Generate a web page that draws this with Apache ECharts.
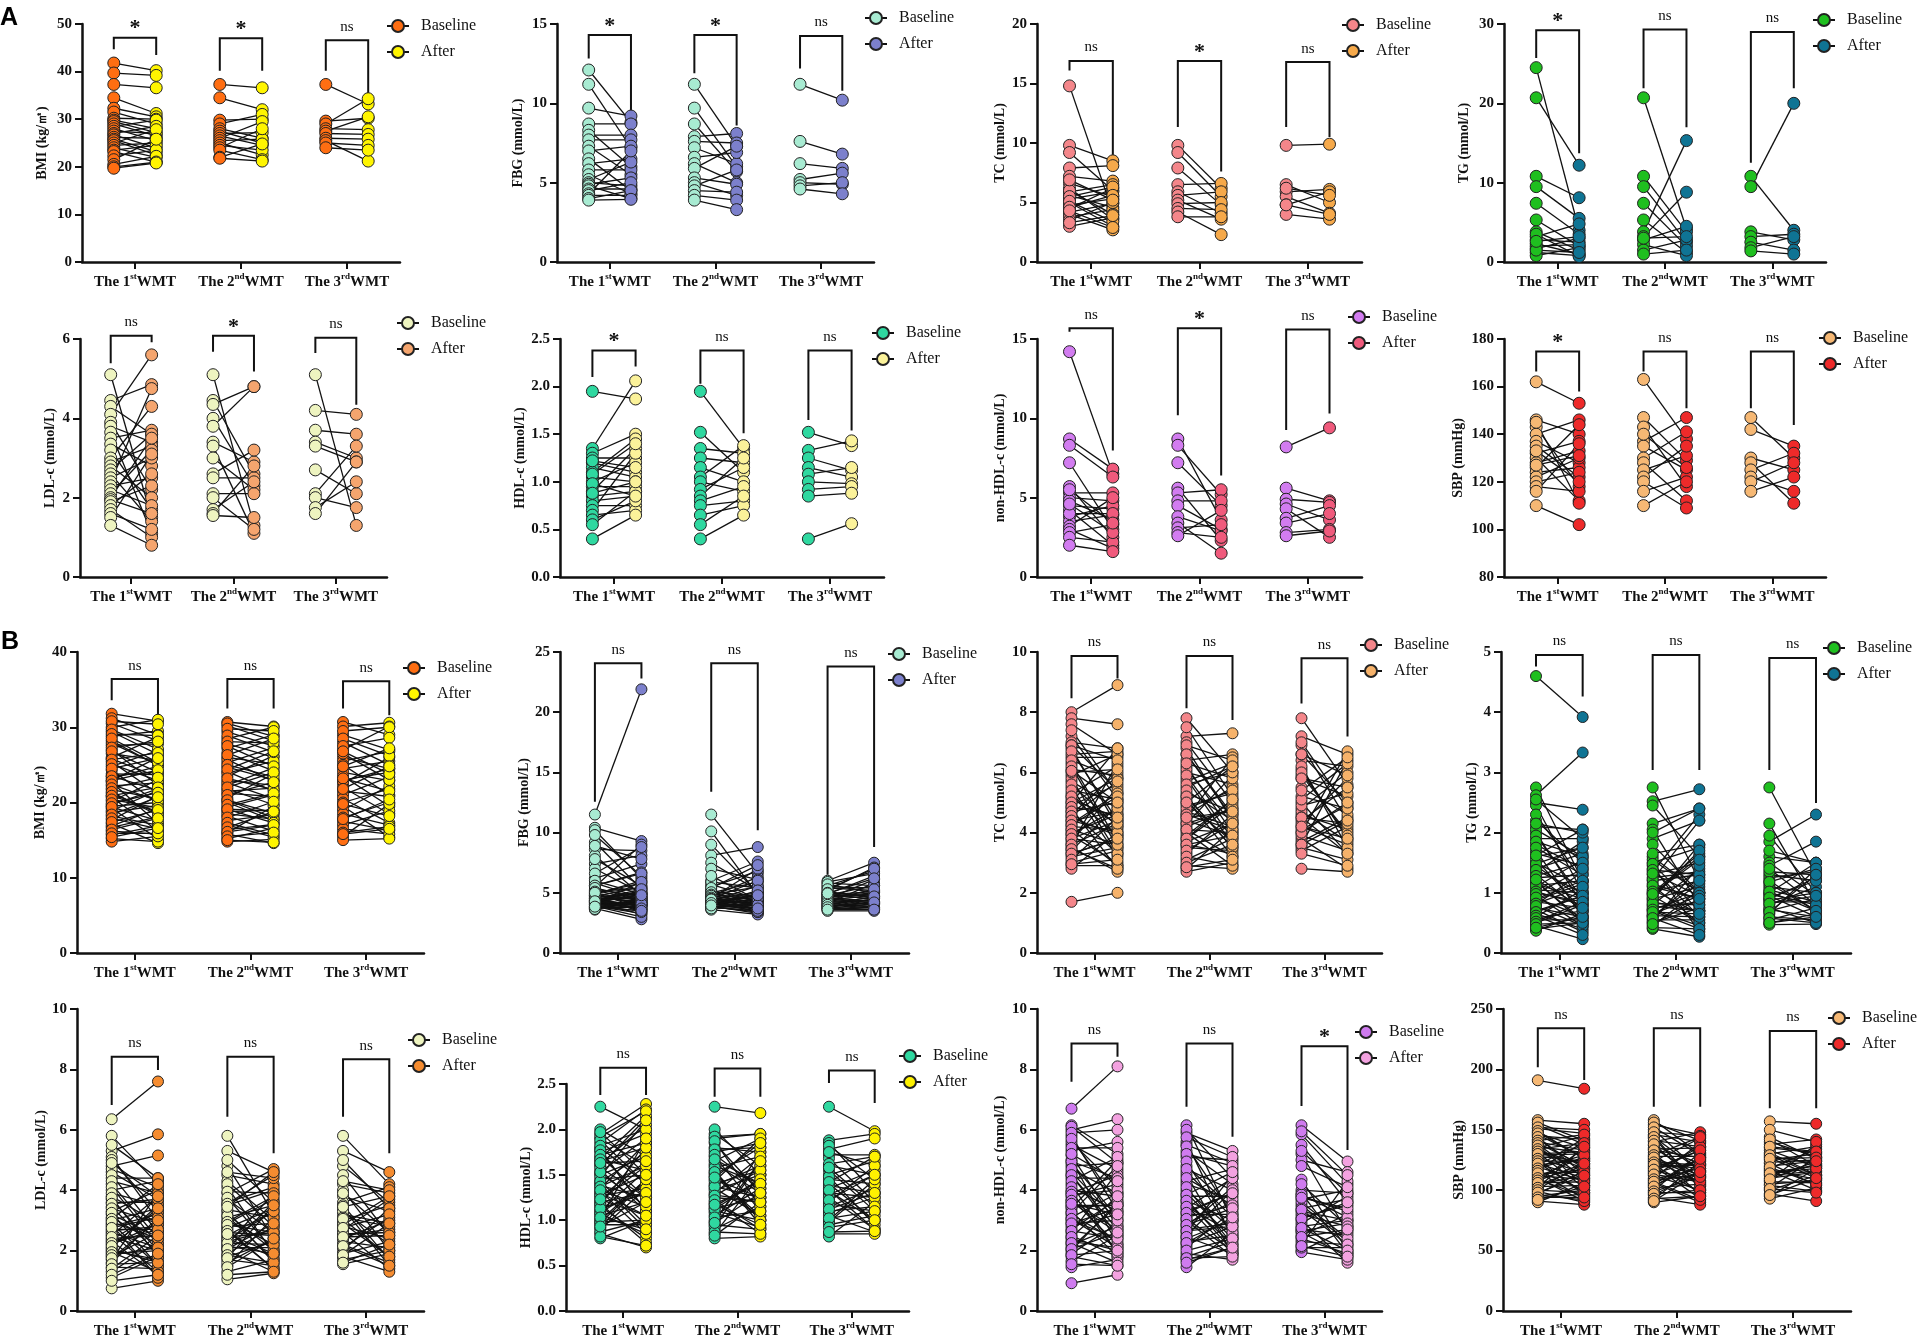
<!DOCTYPE html>
<html><head><meta charset="utf-8">
<script src="https://cdn.jsdelivr.net/npm/echarts/dist/echarts.min.js"></script>
<style>html,body{margin:0;padding:0;background:#fff}#c{width:1919px;height:1340px}</style>
</head><body><div id="c"></div>
<script>
// ---------- categories ----------
const catMain = ['The 1', 'The 2', 'The 3'];
const catSup = ['st', 'nd', 'rd'];
const catTail = 'WMT';

// ---------- Panel A ----------
const A_BMI_base = [
 [41.8,39.7,37.3,34.5,32.3,31.5,30.2,29.8,29.5,29.0,28.5,28.0,27.5,27.0,26.7,26.2,25.8,25.5,25.0,24.5,24.0,23.5,23.2,22.3,21.5,20.5,20.0,19.7],
 [37.3,34.5,29.8,29.0,28.0,27.5,27.0,26.5,26.0,25.5,25.0,24.5,24.0,23.5,22.0,21.8],
 [37.3,29.6,29.0,28.0,27.5,27.0,26.0,25.5,25.0,24.0]];
const A_BMI_after = [
 [40.2,39.2,36.6,31.2,30.5,29.0,30.0,28.0,27.2,26.5,29.8,25.5,27.0,28.5,24.0,26.0,23.2,22.5,27.8,25.0,22.0,24.5,21.0,23.5,25.8,22.2,21.0,20.8],
 [36.6,32.0,30.0,31.0,26.0,25.0,27.2,24.5,29.5,25.8,22.5,23.5,28.0,21.5,24.8,21.2],
 [33.2,30.2,34.3,27.8,30.5,26.8,25.8,21.2,24.5,23.5]];
const A_BMI_br = [[47.1,44.7,43.5],[47.0,40.2,40.2],[46.6,40.2,35.1]];
const A_BMI_sig = ['*','*','ns'];

const A_FBG_base = [
 [12.1,11.2,9.7,8.7,8.3,8.0,7.7,7.3,7.0,6.5,6.2,5.8,5.5,5.2,5.0,4.9,4.8,4.6,4.5,4.3,4.2,4.0,3.9],
 [11.2,9.7,8.7,7.9,7.6,7.2,6.6,6.2,5.9,5.3,5.0,4.8,4.5,4.2,3.9],
 [11.2,7.6,6.2,5.2,5.0,4.8,4.6]];
const A_FBG_after = [
 [8.8,7.2,9.2,8.7,6.0,8.0,7.7,5.5,7.3,4.5,6.5,5.8,4.3,6.3,4.8,5.3,4.0,4.6,5.0,7.0,4.2,4.5,3.95],
 [7.3,6.0,5.7,8.1,7.5,6.2,6.9,5.0,7.3,4.9,4.2,5.8,4.4,3.9,3.3],
 [10.2,6.8,5.9,5.6,4.9,5.0,4.3]];
const A_FBG_br = [[14.3,12.83,9.4],[14.3,11.9,8.6],[14.24,12.2,10.8]];
const A_FBG_sig = ['*','*','ns'];

const A_TC_base = [
 [14.8,9.8,9.2,7.9,7.2,6.6,6.2,5.9,5.6,5.3,5.0,4.8,4.5,4.2,4.0,3.8,3.5,3.0,6.0,5.5,5.1,4.6,4.3,3.3,6.9],
 [9.8,9.2,7.9,6.5,5.9,5.6,5.2,4.9,4.5,4.2,3.8],
 [9.8,6.5,5.9,5.5,4.8,4.0,6.2,4.8]];
const A_TC_after = [
 [4.2,8.5,6.0,8.1,6.8,5.5,3.6,6.5,4.6,5.9,3.0,5.3,6.2,4.9,2.7,4.4,5.0,3.7,4.0,6.3,3.4,5.6,2.9,3.9,5.2],
 [6.2,5.5,4.8,6.6,4.1,5.9,3.6,5.0,4.4,2.3,3.8],
 [9.9,5.0,6.1,4.1,5.9,3.6,5.6,4.0]];
const A_TC_br = [[16.9,16.1,9.0],[16.9,11.35,7.6],[16.8,11.35,10.5]];
const A_TC_sig = ['ns','*','ns'];

const A_TG_base = [
 [24.5,20.7,10.8,9.5,7.4,5.3,3.8,3.2,2.8,2.3,1.7,1.2,0.8,3.5,2.0,1.5,2.6],
 [20.7,10.8,9.5,7.4,5.3,3.8,3.2,2.8,2.2,1.5,1.0,3.0],
 [10.8,9.5,3.8,3.2,2.5,1.8,1.4]];
const A_TG_after = [
 [4.0,12.2,8.1,5.5,3.5,2.0,1.5,4.8,2.5,1.0,3.0,0.8,1.8,0.7,2.2,1.2,3.2],
 [4.2,3.8,2.5,2.0,1.2,15.3,8.8,4.5,0.8,2.8,1.5,3.2],
 [4.0,20.0,2.8,3.5,1.5,3.2,1.0]];
const A_TG_br = [[29.2,25.7,13.7],[29.3,21.9,17.0],[29.0,12.5,21.9]];
const A_TG_sig = ['*','ns','ns'];

const A_LDL_base = [
 [5.1,4.45,4.3,4.1,3.9,3.8,3.65,3.5,3.35,3.2,3.0,2.9,2.8,2.7,2.6,2.5,2.4,2.3,2.2,2.1,2.0,1.95,1.9,1.8,1.7,1.6,1.5,1.3],
 [5.1,4.45,4.35,4.0,3.8,3.4,3.3,3.0,2.6,2.5,2.1,2.0,1.7,1.6,1.55],
 [5.1,4.2,3.7,3.4,3.3,2.7,2.1,2.0,1.75,1.6]];
const A_LDL_after = [
 [1.5,4.85,3.6,5.6,2.2,3.4,1.1,3.7,2.8,1.7,4.3,3.3,2.0,3.6,1.4,3.0,4.75,2.5,1.8,3.2,3.5,1.6,2.3,2.6,1.0,1.2,3.1,0.8],
 [1.3,2.6,4.8,2.3,4.8,2.9,1.1,2.2,3.2,2.5,2.1,1.2,2.4,2.8,1.5],
 [1.3,4.1,3.6,3.0,2.9,2.1,3.3,1.75,2.4,2.9]];
const A_LDL_br = [[6.08,5.39,5.92],[6.08,5.68,5.18],[6.03,5.65,4.34]];
const A_LDL_sig = ['ns','*','ns'];

const A_HDL_base = [
 [1.95,1.35,1.3,1.25,1.2,1.15,1.1,1.05,1.0,0.95,0.9,0.85,0.8,0.75,0.7,0.65,0.6,0.55,0.4,1.22,1.08,0.98,0.88],
 [1.95,1.52,1.35,1.25,1.15,1.05,1.0,0.92,0.85,0.8,0.75,0.65,0.55,0.4],
 [1.52,1.33,1.25,1.15,1.08,1.0,0.92,0.85,0.4]];
const A_HDL_after = [
 [1.87,2.06,1.5,1.25,1.1,1.05,1.45,1.0,1.2,0.95,1.35,0.9,0.85,0.75,1.3,0.7,0.8,0.9,0.65,1.15,1.4,0.85,1.0],
 [1.35,1.1,1.3,1.2,1.0,1.38,0.9,1.15,1.25,0.95,0.8,0.75,0.85,0.65],
 [1.38,1.43,1.12,1.05,1.15,0.98,0.95,0.88,0.56]];
const A_HDL_br = [[2.38,2.10,2.21],[2.38,2.03,1.51],[2.38,1.65,1.54]];
const A_HDL_sig = ['*','ns','ns'];

const A_NHDL_base = [
 [14.2,8.7,8.3,7.2,5.7,5.3,5.0,4.8,4.5,4.2,3.8,3.5,3.2,3.0,2.8,2.5,2.0,4.0,4.6,5.5],
 [8.7,8.3,7.2,5.6,5.3,4.8,4.5,3.8,3.4,3.1,2.8,2.6],
 [8.2,5.6,4.9,4.6,4.3,3.7,3.4,2.8,2.6]];
const A_NHDL_after = [
 [6.5,6.8,6.3,3.0,2.5,5.3,4.8,3.6,4.3,2.0,4.5,3.9,5.0,1.8,3.3,2.2,1.6,4.0,2.8,3.4],
 [3.6,5.2,4.5,2.3,5.5,4.8,3.0,2.9,1.5,3.3,2.5,4.2],
 [9.4,4.8,4.7,3.6,2.5,4.5,4.0,3.0,2.9]];
const A_NHDL_br = [[15.67,15.46,7.97],[15.67,10.2,6.4],[15.6,9.27,10.3]];
const A_NHDL_sig = ['ns','*','ns'];

const A_SBP_base = [
 [162,146,143,140,137,135,132,130,128,126,124,122,120,118,116,110,145,133,127],
 [163,147,143,137,135,130,128,125,122,120,116,110,140],
 [147,142,130,128,125,122,120,116]];
const A_SBP_after = [
 [153,140,118,146,128,122,137,112,133,144,126,130,124,116,136,102,111,120,131],
 [138,129,118,147,125,141,112,131,135,109,122,120,126],
 [130,135,125,111,132,116,128,122]];
const A_SBP_br = [[174.7,166.3,157.9],[174.7,166.3,150.9],[174.7,150.9,143.9]];
const A_SBP_sig = ['*','ns','ns'];

// ---------- Panel B ----------
const B_BMI_base = [
 [31.8,30.5,30.0,29.4,28.8,28.2,27.6,27.0,26.5,26.0,25.4,24.8,24.3,23.8,23.2,22.7,22.2,21.7,21.2,20.7,20.2,19.7,19.2,18.7,18.2,17.7,17.2,16.7,16.2,15.7,15.2,14.8,25.8,22.9,20.9,18.9,16.9,27.9,23.5,19.5,
  31.2,30.8,29.7,29.1,28.5,27.3,26.8,25.7,25.1,24.5,23.5,22.9,22.4,21.9,21.4,20.9,20.4,19.9,19.4,18.4,17.9,17.4,16.4,15.9,15.4],
 [30.7,30.2,29.4,28.5,27.8,27.2,26.6,26.0,25.3,24.7,24.1,23.5,22.9,22.3,21.8,21.2,20.6,20.0,19.4,18.8,18.2,17.6,17.0,16.4,15.8,15.2,14.8,25.7,22.6,20.3,18.5,16.0,23.9,21.5,19.1,
  30.5,29.8,28.9,28.1,27.5,26.3,25.0,24.4,23.2,22.0,21.0,20.3,19.7,19.1,18.0,17.3,16.7,16.1,15.5,15.0],
 [30.7,30.1,29.0,27.0,26.0,25.5,25.0,24.5,24.0,23.5,23.0,22.5,22.0,21.5,21.0,20.5,20.0,19.5,19.0,18.5,18.0,17.5,17.0,16.5,16.0,15.5,15.0,28.0,26.5,22.8,
  29.5,28.5,27.5,26.8,24.8,23.2,21.8,19.8,17.8,15.8]];
const B_BMI_after = [
 [30.8,28.2,31.0,26.4,29.5,24.9,27.8,22.3,25.6,28.7,21.2,26.9,19.9,23.7,24.8,17.2,22.6,20.5,18.6,16.2,23.0,21.8,15.2,19.6,17.0,20.9,14.6,18.1,15.8,16.9,14.8,15.5,23.4,26.0,18.8,21.6,19.2,25.0,24.1,20.0,
  29.0,30.4,27.1,28.9,25.3,28.1,24.0,26.6,22.9,25.9,21.6,24.3,20.2,23.3,18.3,22.0,19.3,21.3,17.6,20.7,16.5,19.0,17.9,15.9,16.6],
 [30.1,28.2,27.5,30.0,26.0,29.0,24.2,25.1,27.3,23.0,21.5,26.2,22.3,24.6,19.7,20.8,23.8,17.6,21.0,19.0,16.2,18.4,15.4,17.1,14.6,16.6,15.1,22.8,20.5,18.0,17.8,19.5,25.5,21.9,18.9,
  28.8,29.5,26.7,27.9,24.8,28.5,23.4,26.8,21.7,24.0,22.7,18.6,21.2,17.3,20.1,15.7,18.8,17.0,16.0,14.7],
 [29.0,30.6,27.0,30.1,24.5,26.8,21.0,25.5,22.9,19.5,24.0,26.0,18.5,20.8,23.4,17.3,21.8,15.4,22.2,17.0,20.0,16.3,18.9,15.8,16.8,19.8,15.2,25.0,23.0,24.5,
  30.0,26.2,28.6,23.8,27.2,21.5,24.8,18.2,20.4,16.5]];
const B_BMI_br = [[36.4,33.6,31.4],[36.4,32.5,32.5],[36.1,32.5,31.6]];
const B_BMI_sig = ['ns','ns','ns'];

const B_FBG_base = [
 [11.5,10.4,10.2,9.2,8.6,8.1,7.4,7.0,6.2,5.8,5.5,5.2,5.0,4.9,4.8,4.7,4.6,4.5,4.4,4.3,4.2,4.1,4.0,3.9,3.8,3.7,3.6,5.3,4.95,4.55,4.35,4.15,3.95,5.6,4.75,4.45,4.25,4.05,3.85,3.75,
  9.8,8.9,7.8,6.6,6.0,5.6,5.4,5.1,4.85,4.65,4.5,4.35,4.25,4.15,4.0,3.9,3.8,3.7,3.65,4.75,4.4,4.2,5.0,4.3,3.85],
 [11.5,10.1,8.1,7.5,6.0,5.7,5.5,5.2,5.0,4.9,4.8,4.7,4.6,4.5,4.4,4.3,4.2,4.1,4.0,3.9,3.8,3.7,3.6,5.9,4.95,4.55,4.35,4.15,3.95,5.1,4.65,4.25,4.05,3.85,3.75,
  9.0,7.0,6.4,5.4,5.05,4.85,4.75,4.6,4.5,4.4,4.3,4.2,4.1,4.0,3.9,3.8,3.7,4.45,4.15,3.95],
 [6.0,5.8,5.6,5.4,5.2,5.0,4.9,4.8,4.7,4.6,4.5,4.4,4.3,4.2,4.1,4.0,3.9,3.8,3.7,3.6,3.5,5.5,5.1,4.85,4.55,4.35,4.05,3.85,3.65,4.65,
  5.9,5.7,5.3,5.0,4.8,4.6,4.4,4.2,4.0,3.8,3.6,4.95]];
const B_FBG_after = [
 [21.9,9.3,6.2,5.3,8.5,4.8,8.1,5.0,7.4,4.6,9.0,4.4,4.3,6.0,4.1,5.5,4.9,3.9,4.6,5.1,3.6,4.0,4.2,3.3,3.8,2.8,4.4,4.7,5.8,4.3,3.7,4.9,4.0,6.7,4.5,3.9,5.2,4.2,3.5,4.1,
  6.4,7.8,5.6,8.8,4.9,6.6,4.5,5.4,4.0,5.0,3.6,4.7,3.2,5.9,4.2,3.0,4.4,3.9,4.6,3.4,5.3,4.1,3.7,4.8,3.5],
 [6.6,4.8,8.8,5.2,7.6,4.5,6.8,4.3,5.9,4.4,4.1,6.3,3.9,5.0,4.6,3.7,4.2,3.5,4.9,3.3,4.0,3.8,3.2,5.4,4.3,7.0,4.1,3.6,4.5,4.7,3.9,5.6,4.0,3.4,4.2,
  5.0,6.1,4.4,7.3,3.8,5.5,4.2,3.6,6.0,4.6,3.4,4.9,3.9,5.2,4.1,3.5,4.5,4.0,3.7,4.8],
 [7.5,5.6,6.8,5.2,7.1,4.7,6.4,4.5,5.0,4.3,6.1,4.8,4.0,4.4,5.8,3.9,4.2,3.6,4.1,3.8,3.5,5.4,4.6,5.1,4.0,4.3,3.7,4.5,3.9,4.9,
  6.6,5.0,7.0,4.4,5.6,4.1,5.3,3.8,4.7,4.2,3.6,6.2]];
const B_FBG_br = [[24.06,12.57,22.8],[24.06,13.4,10.2],[23.8,6.5,8.8]];
const B_FBG_sig = ['ns','ns','ns'];

const B_TC_base = [
 [8.0,7.8,7.2,7.0,6.8,6.5,6.3,6.1,5.9,5.7,5.5,5.3,5.1,4.9,4.8,4.6,4.5,4.3,4.2,4.0,3.9,3.7,3.5,3.4,3.2,3.0,2.9,2.8,1.7,6.6,5.2,4.7,4.1,3.8,3.6,5.8,5.0,4.4,3.3,6.9,
  7.6,7.4,6.9,6.7,6.4,6.2,6.0,5.6,5.4,5.2,5.0,4.85,4.7,4.55,4.4,4.25,4.1,3.95,3.8,3.6,3.45,3.3,3.1,2.95,6.05],
 [7.8,7.2,7.0,6.8,6.4,6.2,6.0,5.8,5.5,5.3,5.1,4.9,4.7,4.5,4.4,4.2,4.0,3.9,3.7,3.5,3.3,3.1,2.9,2.8,2.7,6.6,5.7,5.0,4.3,3.8,6.1,5.2,4.6,4.1,3.6,
  7.5,6.9,6.6,6.3,5.9,5.6,5.4,5.2,4.8,4.6,4.3,4.1,3.8,3.6,3.4,3.2,3.0,2.85,5.0,4.5],
 [7.8,7.2,6.9,6.4,6.1,5.8,5.2,5.0,4.8,4.6,4.4,4.2,4.0,3.8,3.7,3.5,3.4,2.8,6.6,5.5,4.7,4.3,3.9,3.6,5.9,4.9,4.1,6.2,5.1,4.5,
  7.0,6.6,6.0,5.4,4.5,4.0,3.6,3.3,5.8,4.2]];
const B_TC_after = [
 [8.9,7.6,5.1,6.8,4.2,6.5,3.7,5.9,6.6,4.8,3.2,6.2,4.5,5.6,2.8,6.0,3.9,5.3,4.1,4.6,3.0,5.5,2.7,4.9,3.5,3.4,2.9,4.0,2.0,6.7,4.3,5.0,3.6,4.4,6.3,3.3,5.8,4.7,3.8,5.4,
  6.6,5.3,6.4,4.4,5.8,3.5,6.1,4.2,5.1,3.9,6.8,4.6,3.3,5.7,4.0,5.2,2.9,4.8,3.6,4.3,2.8,3.8,4.5,3.1,5.0],
 [6.0,7.3,5.0,4.4,6.6,4.0,5.6,3.6,6.2,4.7,3.2,5.3,4.2,6.5,3.9,4.8,2.9,5.1,4.3,3.4,4.6,3.8,2.8,4.1,3.0,4.5,6.3,3.7,5.9,4.9,4.3,3.5,5.5,4.0,3.3,
  5.2,6.4,4.6,5.8,3.8,6.0,4.4,3.5,5.4,4.1,4.8,3.2,5.1,3.9,4.3,2.9,3.6,3.1,6.2,4.7],
 [5.6,6.6,4.4,6.2,3.8,5.2,4.8,3.3,6.0,4.1,5.5,3.6,6.7,2.8,4.5,3.1,4.2,2.7,5.0,4.6,3.7,5.8,3.4,6.4,4.0,5.3,4.9,3.5,6.3,4.3,
  4.8,5.9,3.9,6.5,3.3,5.0,4.4,2.9,5.5,3.8]];
const B_TC_br = [[9.87,8.46,9.12],[9.87,8.13,7.74],[9.79,8.29,7.19]];
const B_TC_sig = ['ns','ns','ns'];

const B_TG_base = [
 [4.6,2.75,2.62,2.5,2.45,2.2,2.1,2.0,1.9,1.8,1.7,1.6,1.5,1.45,1.4,1.3,1.25,1.2,1.1,1.05,1.0,0.95,0.9,0.85,0.8,0.75,0.7,0.65,0.6,0.55,0.5,0.45,0.4,0.37,1.35,1.15,0.88,0.72,1.65,2.05,
  2.55,2.3,2.15,1.95,1.85,1.75,1.55,1.48,1.38,1.28,1.18,1.12,1.02,0.98,0.92,0.82,0.78,0.68,0.62,0.58,0.52,0.48,0.42,1.62,1.22],
 [2.75,2.52,2.15,2.05,1.9,1.6,1.5,1.4,1.3,1.2,1.1,1.0,0.95,0.9,0.85,0.8,0.75,0.7,0.65,0.6,0.55,0.5,0.45,0.4,1.35,1.05,0.88,0.72,1.25,1.15,0.98,0.78,0.62,1.45,1.55,
  2.45,2.0,1.8,1.65,1.48,1.38,1.22,1.12,1.02,0.92,0.82,0.72,0.62,0.52,0.42,1.32,0.98,0.68,0.58,0.48],
 [2.75,2.15,1.85,1.6,1.5,1.45,1.3,1.25,1.2,1.1,1.0,0.95,0.9,0.85,0.8,0.75,0.7,0.65,0.6,0.55,0.5,0.47,1.35,1.05,0.88,0.72,1.15,0.98,
  1.95,1.7,1.4,1.18,1.02,0.92,0.82,0.68,0.58,0.5]];
const B_TG_after = [
 [3.92,1.2,3.33,2.38,1.0,1.5,2.05,0.8,1.9,1.4,0.6,1.75,1.1,0.9,1.65,0.7,1.3,0.5,1.55,1.0,0.85,0.45,1.2,0.75,1.35,0.6,0.95,0.4,1.05,0.55,0.8,0.23,0.5,0.65,1.85,0.9,1.15,0.35,1.45,1.6,
  1.9,1.2,2.0,0.9,1.6,1.3,0.7,1.75,1.0,1.5,0.55,1.2,0.8,1.4,0.6,1.1,0.45,0.95,0.3,0.7,0.85,0.5,0.6,2.05,0.75],
 [1.2,2.72,2.4,0.8,2.2,1.0,1.75,0.6,1.5,1.3,0.9,1.65,0.5,1.1,0.7,1.4,0.85,0.4,0.95,1.25,0.55,0.75,1.05,0.27,2.3,0.65,1.8,0.45,1.35,0.9,1.6,0.7,1.15,0.35,1.0,
  1.6,2.4,1.0,1.8,0.7,1.3,2.2,0.5,1.2,1.7,0.8,1.0,0.6,1.45,0.4,0.95,1.55,0.65,0.3,0.9],
 [1.3,0.8,2.3,1.5,0.95,1.85,1.2,1.35,0.7,1.0,1.5,0.6,1.25,0.85,1.1,0.5,0.9,1.4,0.55,0.75,0.65,0.48,1.3,0.85,1.0,0.6,0.7,0.8,
  1.0,1.5,0.8,1.4,0.7,1.2,0.95,1.3,0.5,0.6]];
const B_TG_br = [[4.95,4.76,4.26],[4.95,3.04,3.04],[4.9,3.04,2.49]];
const B_TG_sig = ['ns','ns','ns'];

const B_LDL_base = [
 [6.35,5.8,5.3,5.1,4.8,4.6,4.4,4.2,4.0,3.8,3.6,3.45,3.3,3.1,3.0,2.9,2.8,2.7,2.6,2.5,2.4,2.3,2.2,2.1,2.0,1.9,1.8,1.6,1.45,1.3,1.1,0.75,2.65,2.35,2.05,3.2,2.85,3.7,1.7,2.55,
  5.5,5.0,4.7,4.5,4.3,4.1,3.9,3.75,3.55,3.4,3.25,3.05,2.95,2.75,2.45,2.25,2.15,1.95,1.85,1.75,1.55,1.4,1.2,1.0,4.9],
 [5.8,5.3,4.8,4.5,4.3,4.1,3.9,3.7,3.5,3.3,3.1,3.0,2.9,2.8,2.7,2.6,2.5,2.4,2.3,2.2,2.1,2.0,1.9,1.8,1.7,1.5,1.3,1.05,3.2,2.75,2.45,2.15,3.6,1.6,2.05,
  5.0,4.6,4.2,3.95,3.75,3.55,3.35,3.15,2.95,2.85,2.65,2.35,2.25,2.05,1.85,1.75,1.45,1.2,3.45,2.55],
 [5.8,5.3,4.8,4.5,4.2,4.0,3.8,3.6,3.4,3.2,3.0,2.9,2.8,2.7,2.6,2.5,2.4,2.3,2.2,2.0,1.9,1.8,1.55,3.3,2.85,2.55,2.1,3.5,3.1,1.7,
  5.0,4.3,3.9,3.45,3.05,2.75,2.45,2.15,1.85,1.6]];
const B_LDL_after = [
 [7.6,4.2,5.85,3.0,5.15,3.7,4.4,2.4,4.3,2.9,3.6,1.9,4.0,2.2,3.4,1.5,3.2,2.7,2.1,3.8,2.5,1.2,2.9,3.5,1.7,2.0,2.6,3.1,1.4,2.3,1.8,1.0,2.8,3.3,1.6,2.45,1.1,2.0,3.9,1.3,
  4.4,3.3,4.1,2.6,3.9,2.2,3.5,1.8,3.7,2.9,1.5,4.2,2.4,3.1,2.0,2.7,3.4,1.3,2.1,3.0,1.6,2.5,1.9,1.2,3.8],
 [3.2,4.6,2.4,4.2,3.0,1.9,4.7,2.6,4.0,1.6,3.5,2.2,3.7,2.9,1.4,2.5,3.3,1.8,2.7,3.9,2.1,1.3,2.8,2.3,1.5,3.1,1.7,1.25,2.0,3.4,2.6,1.9,4.1,2.4,3.6,
  3.6,4.4,2.8,3.9,2.0,4.5,3.1,1.7,3.8,2.6,1.4,3.3,2.2,2.9,1.6,3.5,2.4,1.3,4.6,1.9],
 [4.2,4.6,3.6,2.5,3.9,2.0,3.3,4.1,1.5,2.9,3.5,1.8,2.4,3.7,1.4,2.7,3.0,2.1,1.6,3.4,2.3,1.3,1.9,2.2,3.8,2.6,3.1,1.7,2.8,2.0,
  3.4,4.0,2.6,3.8,1.8,3.2,2.5,1.5,2.9,2.2]];
const B_LDL_br = [[8.42,6.82,7.98],[8.42,6.43,5.22],[8.34,6.43,5.22]];
const B_LDL_sig = ['ns','ns','ns'];

const B_HDL_base = [
 [2.25,1.95,1.9,1.85,1.8,1.75,1.7,1.65,1.6,1.55,1.5,1.45,1.4,1.35,1.3,1.25,1.2,1.15,1.1,1.05,1.0,0.95,0.9,0.85,0.8,1.62,1.52,1.42,1.32,1.22,1.12,1.02,0.92,1.78,1.68,1.38,1.28,1.18,1.08,0.98,
  2.0,1.92,1.88,1.82,1.77,1.72,1.67,1.58,1.48,1.43,1.37,1.27,1.17,1.07,0.97,0.87,0.82,1.97,1.53,1.33,1.13,1.03,0.93,1.63,1.23],
 [2.25,1.95,1.9,1.85,1.8,1.7,1.65,1.6,1.55,1.5,1.45,1.4,1.35,1.3,1.25,1.2,1.15,1.1,1.05,1.0,0.95,0.9,0.85,0.8,1.75,1.62,1.48,1.38,1.28,1.18,1.08,0.98,1.52,1.33,1.13,
  2.0,1.92,1.87,1.78,1.72,1.58,1.53,1.43,1.37,1.27,1.22,1.12,1.03,0.93,0.87,0.83,1.67,1.47,1.17,0.97],
 [2.25,1.88,1.85,1.72,1.68,1.6,1.55,1.5,1.45,1.4,1.35,1.3,1.25,1.2,1.15,1.1,1.05,1.0,0.95,0.85,0.82,1.62,1.48,1.38,1.28,1.18,1.08,0.98,1.78,1.32,
  1.82,1.75,1.58,1.42,1.33,1.22,1.12,1.02,0.92,0.87]];
const B_HDL_after = [
 [2.0,2.28,1.6,2.22,1.4,1.95,1.25,1.8,2.12,1.1,1.7,1.5,0.9,1.85,1.05,1.65,1.3,0.8,1.55,1.2,1.45,0.95,1.35,0.7,1.0,2.05,1.15,1.75,0.85,1.6,1.3,1.9,1.45,1.1,2.15,1.25,1.5,0.75,1.4,1.0,
  1.7,2.2,1.4,2.0,1.1,1.85,1.55,1.25,2.1,0.95,1.6,1.35,1.8,0.85,1.45,1.0,0.72,1.5,1.9,1.15,1.3,0.9,1.2,1.65,1.05],
 [2.18,1.6,1.95,1.3,1.75,1.1,1.9,1.4,0.95,1.8,1.25,1.55,1.05,1.7,1.2,0.85,1.45,1.0,1.35,1.65,0.9,1.15,1.5,0.82,1.85,1.3,1.05,1.6,1.2,1.4,0.92,1.75,1.0,1.5,1.25,
  1.5,1.95,1.15,1.8,1.35,1.7,1.0,1.9,1.25,1.55,0.9,1.45,1.1,1.65,0.85,1.2,1.4,1.85,0.95,1.3],
 [1.98,1.95,1.3,1.72,1.2,1.5,1.1,1.65,1.4,1.0,1.55,1.25,0.9,1.6,1.35,1.15,0.87,1.45,1.05,0.85,1.2,1.7,0.95,1.3,1.5,1.1,1.25,1.4,1.9,1.0,
  1.45,1.6,1.15,1.7,0.9,1.5,1.3,1.1,1.0,0.88]];
const B_HDL_br = [[2.68,2.38,2.38],[2.67,2.36,2.36],[2.65,2.51,2.29]];
const B_HDL_sig = ['ns','ns','ns'];

const B_NHDL_base = [
 [6.7,6.15,6.0,5.8,5.5,5.3,5.0,4.8,4.6,4.4,4.2,4.0,3.8,3.6,3.5,3.3,3.1,3.0,2.8,2.6,2.4,2.2,2.0,1.8,1.65,1.45,0.92,4.9,3.9,3.2,2.7,2.3,1.9,5.6,4.5,3.4,2.9,2.5,2.1,3.7,
  6.1,5.9,5.7,5.4,5.15,4.95,4.7,4.5,4.3,4.1,3.95,3.85,3.65,3.45,3.25,3.05,2.9,2.65,2.45,2.25,2.05,1.85,1.55,5.2,3.55],
 [6.15,5.9,5.6,5.3,5.1,4.8,4.5,4.3,4.0,3.8,3.6,3.4,3.2,3.0,2.9,2.7,2.5,2.3,2.1,1.9,1.7,1.45,5.5,4.6,3.7,3.1,2.6,2.2,1.8,4.2,3.5,2.8,2.4,3.9,3.3,
  6.0,5.75,5.45,5.2,4.95,4.7,4.4,4.1,3.85,3.65,3.45,3.25,3.05,2.85,2.65,2.45,2.25,2.0,1.75,1.6],
 [6.15,5.85,5.5,5.2,5.0,4.35,4.0,3.9,3.8,3.7,3.5,3.3,3.2,3.0,2.9,2.7,2.6,2.5,2.3,2.2,2.0,1.95,3.6,3.1,2.8,2.4,3.4,2.1,3.85,2.65,
  5.95,5.3,4.8,4.2,3.75,3.35,3.05,2.75,2.45,2.15]];
const B_NHDL_after = [
 [8.1,5.2,6.35,3.3,4.7,5.6,2.2,4.9,3.0,4.4,1.9,3.8,4.2,2.6,3.5,1.8,3.9,2.4,3.2,4.6,2.0,2.8,3.6,1.5,2.5,1.7,1.2,3.1,4.5,2.3,3.7,2.1,2.9,4.1,2.7,5.0,3.4,1.8,3.5,2.2,
  4.9,6.0,3.6,5.4,2.8,4.4,3.9,2.5,5.1,3.3,1.9,4.0,2.7,3.5,4.8,2.1,3.0,2.4,3.8,1.6,2.6,2.0,1.5,4.3,3.2],
 [3.0,5.3,2.4,4.2,5.0,3.4,1.9,4.7,2.7,3.8,2.2,4.4,3.2,1.8,3.6,2.9,4.0,2.5,3.3,1.7,2.1,2.6,4.9,3.1,2.0,3.5,4.5,2.8,2.3,3.7,1.9,4.1,3.0,2.4,3.9,
  4.4,5.1,3.2,4.8,2.5,4.0,3.5,2.2,4.6,3.0,2.6,3.9,2.0,3.4,2.8,1.9,3.1,2.4,1.8,2.1],
 [4.95,4.2,3.6,2.6,4.6,2.0,3.9,1.9,3.3,4.0,2.3,3.0,2.8,1.6,3.8,2.5,1.8,3.2,2.2,4.3,2.7,1.7,2.4,3.5,3.0,1.9,3.7,2.1,3.1,2.9,
  4.5,3.9,4.1,2.8,3.4,2.2,3.6,2.0,2.7,1.8]];
const B_NHDL_br = [[8.86,7.59,8.42],[8.86,6.76,5.77],[8.77,6.79,5.33]];
const B_NHDL_sig = ['ns','ns','*'];

const B_SBP_base = [
 [191,158,154,151,148,145,142,140,138,135,133,131,129,127,125,123,121,119,117,115,113,111,109,107,105,103,101,99,97,95,93,91,90,136,128,120,112,104,96,146,
  156,152,149,147,144,141,139,137,134,132,130,126,124,122,118,116,114,110,108,106,102,100,98,94,92],
 [158,154,150,146,143,140,137,134,131,128,126,124,122,120,118,116,114,112,110,108,106,104,102,100,98,96,94,92,90,135,125,115,105,145,119,
  156,152,148,144,141,138,133,129,127,123,121,117,113,109,107,103,99,97,93,91],
 [157,144,138,133,130,127,125,122,120,118,116,113,110,108,105,102,100,97,95,93,135,128,123,117,112,107,140,131,115,104,
  150,142,136,129,126,119,114,109,101,96]];
const B_SBP_after = [
 [184,155,138,147,126,142,118,133,110,145,121,102,130,114,137,98,125,108,140,93,117,128,95,135,112,104,122,90,116,100,97,88,106,131,124,143,109,119,92,127,
  141,150,126,135,113,146,120,104,139,118,132,96,124,110,129,100,115,91,122,107,136,98,112,94,103],
 [130,146,115,140,103,148,122,135,96,128,110,143,118,93,133,108,125,100,139,113,90,120,105,131,98,116,88,124,95,111,106,136,127,101,121,
  141,129,145,116,136,104,127,144,112,121,98,133,107,118,92,126,111,100,95,115],
 [155,126,142,119,136,110,130,104,124,134,100,121,115,138,108,127,112,91,118,102,131,122,125,109,116,106,128,113,120,99,
  140,120,132,112,127,105,118,124,98,110]];
const B_SBP_br = [[234,201.8,191.3],[234,169,169],[231.8,167.8,167.8]];
const B_SBP_sig = ['ns','ns','ns'];

// ---------- layout / style (not data) ----------
const F = '"Liberation Serif","Times New Roman",serif';
const panels = [
 {id:'A1', name:'BMI (kg/㎡)', base:A_BMI_base, after:A_BMI_after, br:A_BMI_br, sig:A_BMI_sig, min:0, max:50, iv:10, dec:0, col:['#FF6E12','#FFF500'], grid:[82,24,318,238], leg:[386,18], gap:33, sym:12},
 {id:'A2', name:'FBG (mmol/L)', base:A_FBG_base, after:A_FBG_after, br:A_FBG_br, sig:A_FBG_sig, min:0, max:15, iv:5, dec:0, col:['#A8EBD2','#7C80CC'], grid:[557,24,317,238], leg:[864,10], gap:32, sym:12},
 {id:'A3', name:'TC (mmol/L)', base:A_TC_base, after:A_TC_after, br:A_TC_br, sig:A_TC_sig, min:0, max:20, iv:5, dec:0, col:['#F4868A','#F6A94A'], grid:[1037,24,325,238], leg:[1341,17], gap:30, sym:12},
 {id:'A4', name:'TG (mmol/L)', base:A_TG_base, after:A_TG_after, br:A_TG_br, sig:A_TG_sig, min:0, max:30, iv:10, dec:0, col:['#1FBF1F','#0F7494'], grid:[1504,24,322,238], leg:[1812,12], gap:33, sym:12},
 {id:'A5', name:'LDL-c (mmol/L)', base:A_LDL_base, after:A_LDL_after, br:A_LDL_br, sig:A_LDL_sig, min:0, max:6, iv:2, dec:0, col:['#EEF4C0','#F5A56E'], grid:[80,339,307,238], leg:[396,315], gap:23, sym:12},
 {id:'A6', name:'HDL-c (mmol/L)', base:A_HDL_base, after:A_HDL_after, br:A_HDL_br, sig:A_HDL_sig, min:0, max:2.5, iv:0.5, dec:1, col:['#2FD8A0','#FBF29A'], grid:[560,339,324,238], leg:[871,325], gap:33, sym:12},
 {id:'A7', name:'non-HDL-c (mmol/L)', base:A_NHDL_base, after:A_NHDL_after, br:A_NHDL_br, sig:A_NHDL_sig, min:0, max:15, iv:5, dec:0, col:['#D27CF0','#F05A7C'], grid:[1037,339,325,238], leg:[1347,309], gap:30, sym:12},
 {id:'A8', name:'SBP (mmHg)', base:A_SBP_base, after:A_SBP_after, br:A_SBP_br, sig:A_SBP_sig, min:80, max:180, iv:20, dec:0, col:['#F6B874','#EE2A2A'], grid:[1504,339,322,238], leg:[1818,330], gap:39, sym:12},
 {id:'B1', name:'BMI (kg/㎡)', base:B_BMI_base, after:B_BMI_after, br:B_BMI_br, sig:B_BMI_sig, min:0, max:40, iv:10, dec:0, col:['#FF6E12','#FFF500'], grid:[77,652,347,301], leg:[402,660], gap:30, sym:11},
 {id:'B2', name:'FBG (mmol/L)', base:B_FBG_base, after:B_FBG_after, br:B_FBG_br, sig:B_FBG_sig, min:0, max:25, iv:5, dec:0, col:['#A8EBD2','#7C80CC'], grid:[560,652,349,301], leg:[887,646], gap:24, sym:11},
 {id:'B3', name:'TC (mmol/L)', base:B_TC_base, after:B_TC_after, br:B_TC_br, sig:B_TC_sig, min:0, max:10, iv:2, dec:0, col:['#F4868A','#F6B26A'], grid:[1037,652,345,301], leg:[1359,637], gap:30, sym:11},
 {id:'B4', name:'TG (mmol/L)', base:B_TG_base, after:B_TG_after, br:B_TG_br, sig:B_TG_sig, min:0, max:5, iv:1, dec:0, col:['#1FBF1F','#0F7494'], grid:[1501,652,350,301], leg:[1822,640], gap:21, sym:11},
 {id:'B5', name:'LDL-c (mmol/L)', base:B_LDL_base, after:B_LDL_after, br:B_LDL_br, sig:B_LDL_sig, min:0, max:10, iv:2, dec:0, col:['#EEF4C0','#F58C30'], grid:[77,1009,347,302], leg:[407,1032], gap:27, sym:11},
 {id:'B6', name:'HDL-c (mmol/L)', base:B_HDL_base, after:B_HDL_after, br:B_HDL_br, sig:B_HDL_sig, min:0, max:2.5, iv:0.5, dec:1, col:['#2FD8A0','#FFF200'], grid:[566,1084,343,227], leg:[898,1048], gap:33, sym:11},
 {id:'B7', name:'non-HDL-c (mmol/L)', base:B_NHDL_base, after:B_NHDL_after, br:B_NHDL_br, sig:B_NHDL_sig, min:0, max:10, iv:2, dec:0, col:['#CF7BEF','#F3A2E0'], grid:[1037,1009,345,302], leg:[1354,1024], gap:30, sym:11},
 {id:'B8', name:'SBP (mmHg)', base:B_SBP_base, after:B_SBP_after, br:B_SBP_br, sig:B_SBP_sig, min:0, max:250, iv:50, dec:0, col:['#F6B874','#EE2A2A'], grid:[1503,1009,348,302], leg:[1827,1010], gap:36, sym:11}
];
const OFF = 0.2;

const grid = [], xAxis = [], yAxis = [], series = [], legend = [];
panels.forEach((p, i) => {
  grid.push({left:p.grid[0], top:p.grid[1], width:p.grid[2], height:p.grid[3], containLabel:false, outerBoundsMode:'none'});
  xAxis.push({
    type:'category', gridIndex:i, data:catMain.map((m,k)=>m+catSup[k]+catTail), boundaryGap:true,
    axisLine:{show:true, lineStyle:{color:'#111', width:2.5}},
    axisTick:{show:true, alignWithLabel:true, length:7, lineStyle:{color:'#111', width:2}},
    splitLine:{show:false},
    axisLabel:{margin:10, interval:0,
      formatter:(v, k) => '{m|' + catMain[k] + '}{s|' + catSup[k] + '}{m|' + catTail + '}',
      rich:{
        m:{fontFamily:F, fontWeight:'bold', fontSize:15, color:'#111', lineHeight:18, verticalAlign:'bottom'},
        s:{fontFamily:F, fontWeight:'bold', fontSize:9, color:'#111', lineHeight:10, verticalAlign:'top'}
      }}
  });
  xAxis.push({type:'value', gridIndex:i, min:0, max:3, show:false});
  yAxis.push({
    type:'value', gridIndex:i, min:p.min, max:p.max, interval:p.iv,
    name:p.name, nameLocation:'middle', nameGap:p.gap, nameRotate:90,
    nameTextStyle:{fontFamily:F, fontWeight:'bold', fontSize:14, color:'#111'},
    axisLine:{show:true, lineStyle:{color:'#111', width:2.5}},
    axisTick:{show:true, length:7, lineStyle:{color:'#111', width:2}},
    splitLine:{show:false},
    axisLabel:{margin:10, fontFamily:F, fontWeight:'bold', fontSize:15, color:'#111',
      formatter: v => Number(v).toFixed(p.dec)}
  });
  const xi = 2*i + 1;
  const pairData = [];
  for (let g = 0; g < 3; g++) {
    const n = Math.min(p.base[g].length, p.after[g].length);
    for (let k = 0; k < n; k++) pairData.push([g + 0.5 - OFF, p.base[g][k], g + 0.5 + OFF, p.after[g][k]]);
  }
  series.push({
    type:'custom', xAxisIndex:xi, yAxisIndex:i, z:2, silent:true, clip:false,
    encode:{x:[0,2], y:[1,3]},
    data:pairData,
    renderItem:(params, api) => {
      const a = api.coord([api.value(0), api.value(1)]);
      const b = api.coord([api.value(2), api.value(3)]);
      return {type:'line', shape:{x1:a[0], y1:a[1], x2:b[0], y2:b[1]}, style:{stroke:'#111', lineWidth:1.3}};
    }
  });
  const brData = p.br.map((b, g) => [g + 0.5 - OFF, b[1], b[0], g + 0.5 + OFF, b[2]]);
  const sig = p.sig;
  series.push({
    type:'custom', xAxisIndex:xi, yAxisIndex:i, z:2, silent:true, clip:false,
    encode:{x:[0,3], y:[1,2,4]},
    data:brData,
    renderItem:(params, api) => {
      const p1 = api.coord([api.value(0), api.value(1)]);
      const p2 = api.coord([api.value(0), api.value(2)]);
      const p3 = api.coord([api.value(3), api.value(2)]);
      const p4 = api.coord([api.value(3), api.value(4)]);
      const s = sig[params.dataIndex];
      const star = s === '*';
      return {type:'group', children:[
        {type:'polyline', shape:{points:[p1,p2,p3,p4]}, style:{stroke:'#111', lineWidth:2, fill:null}},
        {type:'text', x:(p2[0]+p3[0])/2, y:p2[1] - (star ? -2 : 6),
          style:{text:s, align:'center', verticalAlign:'bottom', fontFamily:F,
            fontWeight: star ? 'bold' : 'normal', fontSize: star ? 22 : 15, fill:'#111'}}
      ]};
    }
  });
  ['base','after'].forEach((key, j) => {
    const d = [];
    for (let g = 0; g < 3; g++) {
      const n = Math.min(p.base[g].length, p.after[g].length);
      for (let k = 0; k < n; k++) d.push([g + 0.5 + (j === 0 ? -OFF : OFF), p[key][g][k]]);
    }
    series.push({
      type:'line', name:p.id + '|' + (j === 0 ? 'Baseline' : 'After'),
      xAxisIndex:xi, yAxisIndex:i, z:4, silent:true,
      data:d, symbol:'circle', symbolSize:p.sym, showSymbol:true, showAllSymbol:true,
      lineStyle:{width:0, opacity:0},
      itemStyle:{color:p.col[j], borderColor:'#222', borderWidth:1, opacity:1},
      emphasis:{disabled:true}
    });
  });
  legend.push({
    left:p.leg[0], top:p.leg[1], orient:'vertical', padding:0,
    itemWidth:22, itemHeight:15, itemGap:10, selectedMode:false,
    data:[p.id + '|Baseline', p.id + '|After'],
    formatter: n => n.split('|')[1],
    textStyle:{fontFamily:F, fontSize:16, color:'#111', padding:[0,0,0,7]},
    lineStyle:{color:'#111', width:2, opacity:1, type:'solid'}
  });
});

const chart = echarts.init(document.getElementById('c'), null, {renderer:'canvas'});
chart.setOption({
  backgroundColor:'#fff',
  animation:false,
  grid, xAxis, yAxis, series, legend,
  graphic:[
    {type:'text', left:0, top:6, style:{text:'A', fontFamily:'"Liberation Sans",Arial,sans-serif', fontWeight:'bold', fontSize:25, fill:'#000'}},
    {type:'text', left:1, top:630, style:{text:'B', fontFamily:'"Liberation Sans",Arial,sans-serif', fontWeight:'bold', fontSize:25, fill:'#000'}}
  ]
});
</script></body></html>
